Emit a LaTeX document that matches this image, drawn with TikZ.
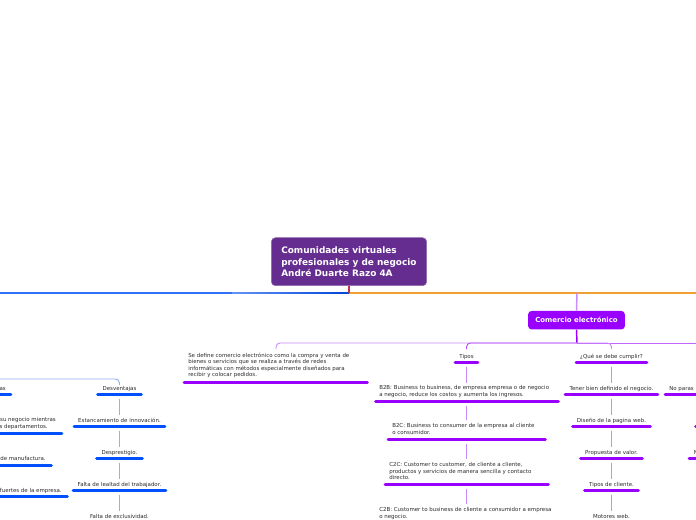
\documentclass[tikz,border=0pt]{standalone}
\usepackage{fontspec}
\usetikzlibrary{calc}
\setmainfont{DejaVu Sans}
\definecolor{rootc}{HTML}{662D91}
\definecolor{purp}{HTML}{9900FF}
\definecolor{lpurp}{HTML}{C98BFA}
\definecolor{blu}{HTML}{0050FF}
\definecolor{lblu}{HTML}{8FB0F5}
\definecolor{orng}{HTML}{F0A030}
\definecolor{txt}{HTML}{2A2A2A}
\tikzset{
  label text/.style={font=\fontsize{4.1pt}{4.75pt}\selectfont,text=txt,inner sep=0pt,align=left},
  ctr text/.style={label text,anchor=center,align=center},
  under/.style={line width=2pt,line cap=round},
  underP/.style={under,draw=purp},
  underB/.style={under,draw=blu},
  stemP/.style={draw=lpurp,line width=0.7pt},
  stemB/.style={draw=lblu,line width=0.7pt},
  rootbox/.style={fill=rootc,draw=rootc!70!white,line width=.4pt,rounded corners=3pt,minimum width=116.5pt,minimum height=36pt,inner sep=0pt},
  mainbox/.style={fill=purp,rounded corners=2.5pt,minimum width=72.5pt,minimum height=13.8pt,inner sep=0pt,text=white,font=\fontsize{5.2pt}{6pt}\selectfont\bfseries}
}
% name, cx, text y, half width of the underline, underline y, text, style
\newcommand{\itemrow}[7]{%
  \node[ctr text] (#1) at (#2,#3+0.6) {#6};
  \coordinate (#1-a) at (#2-#4,#5);
  \coordinate (#1-b) at (#2+#4,#5);
  \coordinate (#1-c) at (#2,#5);
  \draw[#7] (#1-a) -- (#1-b);
}
\begin{document}
\begin{tikzpicture}[x=0.75pt,y=-0.75pt]
\useasboundingbox (0,0) rectangle (696,520);
\clip (0,0) rectangle (696,520);

% free ends
\coordinate (le) at (0,293);
\coordinate (re) at (696,293);
\coordinate (hub) at (349,293);
\coordinate (hub2) at (577,293);
\coordinate (pl) at (276,343);
\coordinate (pm) at (466.5,343);
\coordinate (pq) at (611.5,343);
\coordinate (pr) at (696,343);
\coordinate (ph) at (577,343);
\coordinate (ble) at (0,379);

% root and main branch
\node[rootbox,text=white] (root) at (349,261.7) {};
\node[inner sep=0pt,anchor=west,align=left,text=white,font=\fontsize{6.7pt}{8.3pt}\selectfont\bfseries] (roottext) at (281,261.7) {Comunidades virtuales\\profesionales y de negocio\\André Duarte Razo 4A};

\draw[draw=blu!65!lblu,line width=.8pt] (le) -- (232,293);
\shade[left color=blu!30!lblu,right color=blu!85!black] (232,292.5) rectangle (349,293.5);
\draw[draw=orng,line width=.8pt] (hub) -- (re);
\draw[draw=red!45!rootc!80!orng,line width=1.2pt] (root.south) -- (hub);

\node[mainbox] (ce) at (576.5,320.2) {Comercio electrónico};
\draw[lpurp,line width=1.1pt,rounded corners=2pt] (hub2) -- (ce.north);
\draw[purp,line width=1.1pt] (ce.south) -- (ph);

% purple tier
\draw[lpurp,line width=.7pt,rounded corners=3pt] ($(pl)+(0,6)$) -- (pl) -- (ph);
\draw[purp!70!white,line width=.7pt,rounded corners=3pt] ($(pm)+(0,6)$) -- (pm) -- (ph);
\draw[purp!60!white,line width=.7pt] (ph) -- (pr);
\draw[lpurp,line width=.7pt,rounded corners=3pt] ($(pq)+(0,6)$) -- (pq) -- (ph);

% definition
\node[label text,anchor=north west] (def) at (188,353) {Se define comercio electrónico como la compra y venta de\\bienes o servicios que se realiza a través de redes\\informáticas con métodos especialmente diseñados para\\recibir y colocar pedidos.};
\coordinate (def-a) at (184,382.5);
\coordinate (def-b) at (367.5,382.5);
\draw[underP] (def-a) -- (def-b);

% Tipos column
\itemrow{tipos}{466.5}{356}{11.5}{362.5}{Tipos}{underP}
\node[label text,anchor=north west] (b2b) at (379,385.5) {B2B: Business to business, de empresa empresa o de negocio\\a negocio, reduce los costos y aumenta los ingresos.};
\coordinate (b2b-a) at (375.5,401.5);\coordinate (b2b-b) at (558.5,401.5);\coordinate (b2b-c) at (466.5,401.5);
\draw[underP] (b2b-a) -- (b2b-b);
\node[label text,anchor=north west] (b2c) at (392,423.5) {B2C: Business to consumer de la empresa al cliente\\o consumidor.};
\coordinate (b2c-a) at (388,439.5);\coordinate (b2c-b) at (545.5,439.5);\coordinate (b2c-c) at (466.5,439.5);
\draw[underP] (b2c-a) -- (b2c-b);
\node[label text,anchor=north west] (c2c) at (389,462.5) {C2C: Customer to customer, de cliente a cliente,\\productos y servicios de manera sencilla y contacto\\directo.};
\coordinate (c2c-a) at (385,484.5);\coordinate (c2c-b) at (548.5,484.5);\coordinate (c2c-c) at (466.5,484.5);
\draw[underP] (c2c-a) -- (c2c-b);
\node[label text,anchor=north west] (c2b) at (379,507.5) {C2B: Customer to business de cliente a consumidor a empresa\\o negocio.};
\draw[stemP] ($(tipos-c)+(0,4)$) -- ($(b2b.north -| tipos-c)+(0,-2.5)$);
\draw[stemP] ($(b2b-c)+(0,4)$) -- ($(b2c.north -| tipos-c)+(0,-3.5)$);
\draw[stemP] ($(b2c-c)+(0,4)$) -- ($(c2c.north -| tipos-c)+(0,-3.5)$);
\draw[stemP] ($(c2c-c)+(0,4)$) -- ($(c2b.north -| tipos-c)+(0,-3.5)$);

% Que se debe cumplir column
\itemrow{q}{611.5}{356}{35.5}{362.5}{¿Qué se debe cumplir?}{underP}
\itemrow{t}{611.5}{388}{46.5}{394.5}{Tener bien definido el negocio.}{underP}
\itemrow{d}{611.5}{420}{39}{426.5}{Diseño de la pagina web.}{underP}
\itemrow{p}{611.5}{452}{31}{458.5}{Propuesta de valor.}{underP}
\itemrow{tc}{611.5}{484}{27}{490.5}{Tipos de cliente.}{underP}
\node[ctr text] (m) at (611.5,516.6) {Motores web.};
\foreach \a/\b in {q/t,t/d,d/p,p/tc,tc/m}
  \draw[stemP] ($(\a-c)+(0,4)$) -- ($(\b.north)+(0,-3)$);

% right edge
\node[label text,anchor=west] (np) at (669,388.6) {No paras};
\coordinate (np-a) at (665,394.5);\coordinate (np-b) at (697,394.5);
\draw[underP] (np-a) -- (np-b);
\coordinate (r2-a) at (695.5,426.5);\coordinate (r2-b) at (698,426.5);
\draw[underP] (r2-a) -- (r2-b);
\node[label text,anchor=west] (rn) at (693.5,452.6) {N};
\coordinate (r3-a) at (689,458.5);\coordinate (r3-b) at (698,458.5);
\draw[underP] (r3-a) -- (r3-b);

% blue columns
\coordinate (bd) at (119.5,379);
\draw[stemB,rounded corners=3pt] (ble) -- (bd) -- (119.5,385);
\itemrow{des}{119.5}{388}{22}{394.5}{Desventajas}{underB}
\itemrow{est}{119.5}{420}{45.5}{426.5}{Estancamiento de innovación.}{underB}
\itemrow{dp}{119.5}{452}{23}{458.5}{Desprestigio.}{underB}
\itemrow{fl}{119.5}{484}{46.5}{490.5}{Falta de lealtad del trabajador.}{underB}
\node[ctr text] (fe) at (119.5,516.6) {Falta de exclusividad.};
\foreach \a/\b in {des/est,est/dp,dp/fl,fl/fe}
  \draw[stemB] ($(\a-c)+(0,4)$) -- ($(\b.north)+(0,-3)$);

\node[label text,anchor=east] (v1) at (6,388.6) {as};
\coordinate (v1-a) at (-3,394.5);\coordinate (v1-b) at (11,394.5);
\draw[underB] (v1-a) -- (v1-b);
\node[label text,anchor=east] (v2) at (56,420.4) {su negocio mientras};
\node[label text,anchor=east] (v2b) at (48,426.6) {s departamentos.};
\coordinate (v2-a) at (-3,433.5);\coordinate (v2-b) at (62,433.5);
\draw[underB] (v2-a) -- (v2-b);
\node[label text,anchor=east] (v3) at (46,458.6) {de manufactura.};
\coordinate (v3-a) at (-3,465.5);\coordinate (v3-b) at (51.5,465.5);
\draw[underB] (v3-a) -- (v3-b);
\node[label text,anchor=east] (v4) at (62,490.6) {fuertes de la empresa.};
\coordinate (v4-a) at (-3,496.5);\coordinate (v4-b) at (67.5,496.5);
\draw[underB] (v4-a) -- (v4-b);
\end{tikzpicture}
\end{document}
